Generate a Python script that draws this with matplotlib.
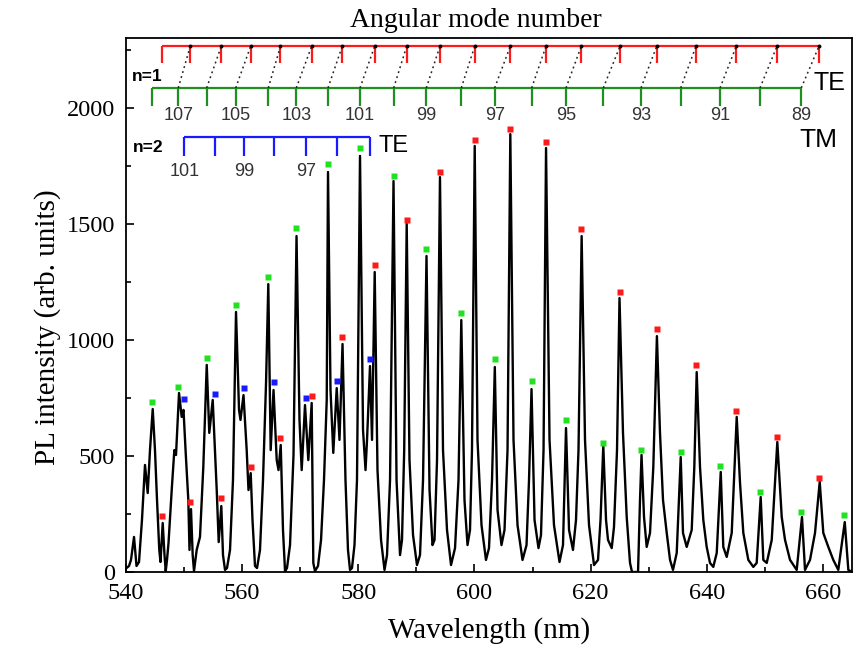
import matplotlib
matplotlib.use("Agg")
import matplotlib.pyplot as plt
from matplotlib.ticker import MultipleLocator

# ---------------- data ----------------
wavelength = [540.09, 540.52, 540.86, 541.38, 541.81, 542.24, 542.75, 543.27, 543.74, 544.13,
              544.60, 544.99, 545.34, 545.73, 545.94, 546.32, 546.63, 546.84, 547.06, 547.32,
              547.87, 548.32, 548.61, 549.13, 549.59, 549.90, 550.28, 550.73, 550.93, 551.19,
              551.48, 551.71, 552.17, 552.74, 553.31, 553.90, 554.34, 554.93, 555.32, 555.62,
              555.96, 556.41, 556.70, 557.05, 557.39, 557.91, 558.42, 558.94, 559.46, 559.71,
              560.23, 560.78, 561.09, 561.47, 561.78, 562.21, 562.56, 563.07, 563.59, 564.11,
              564.50, 564.91, 565.40, 565.95, 566.26, 566.64, 567.03, 567.38, 567.72, 568.24,
              568.84, 569.36, 569.87, 570.25, 570.82, 571.39, 571.97, 572.25, 572.54, 573.06,
              573.58, 574.09, 574.56, 574.78, 575.21, 575.69, 576.28, 576.76, 577.28, 577.79,
              578.22, 578.57, 578.91, 579.34, 579.77, 580.29, 580.81, 581.24, 581.50, 582.01,
              582.36, 582.82, 583.30, 583.91, 584.51, 584.94, 585.46, 586.06, 586.58, 587.18,
              587.52, 587.90, 588.33, 588.81, 589.42, 590.10, 590.62, 591.14, 591.74, 592.26,
              592.77, 593.12, 593.55, 594.06, 594.58, 595.27, 595.96, 596.65, 597.25, 597.73,
              598.28, 598.80, 599.23, 599.57, 600.04, 600.52, 601.21, 601.98, 602.50, 603.02,
              603.50, 603.97, 604.65, 605.17, 605.69, 606.17, 606.72, 607.41, 608.27, 608.96,
              609.39, 609.82, 610.34, 611.02, 611.45, 611.89, 612.32, 612.92, 613.69, 614.64,
              615.24, 615.76, 616.28, 616.96, 617.48, 617.91, 618.45, 619.03, 619.72, 620.58,
              621.27, 621.70, 622.18, 622.65, 622.99, 623.63, 624.02, 624.54, 624.97, 625.57,
              626.21, 626.78, 627.12, 628.16, 628.50, 628.76, 629.19, 629.65, 630.22, 630.79,
              631.41, 631.94, 632.46, 633.10, 633.67, 634.18, 634.82, 635.51, 635.90, 636.54,
              637.40, 637.85, 638.26, 638.83, 639.40, 639.98, 640.55, 641.12, 641.71, 642.40,
              642.84, 643.43, 644.29, 645.15, 645.72, 646.29, 647.15, 648.01, 648.59, 649.28,
              649.73, 650.32, 651.18, 652.14, 652.90, 653.47, 654.33, 655.48, 656.39, 656.91,
              657.77, 658.63, 659.44, 660.06, 660.92, 661.78, 662.64, 663.75, 664.37, 665.00]

intensity = [17, 26, 52, 151, 26, 43, 224, 461, 340, 525,
             702, 525, 310, 95, 43, 211, 73, 4, 52, 125,
             353, 525, 504, 771, 668, 698, 513, 310, 95, 271,
             73, 4, 95, 151, 452, 892, 599, 741, 525, 353,
             129, 284, 73, 9, 17, 95, 396, 1120, 698, 655,
             762, 525, 353, 426, 224, 26, 17, 95, 396, 814,
             1240, 525, 784, 482, 439, 547, 181, 4, 17, 116,
             504, 1447, 655, 439, 719, 482, 728, 39, 4, 26,
             138, 396, 741, 1723, 784, 513, 792, 569, 982, 396,
             95, 9, 17, 116, 396, 1792, 612, 439, 569, 887,
             569, 1292, 439, 138, 9, 73, 396, 1684, 396, 73,
             138, 525, 1499, 482, 159, 30, 73, 396, 1361, 353,
             116, 138, 482, 1701, 525, 181, 30, 103, 396, 1085,
             310, 116, 181, 525, 1835, 569, 202, 52, 103, 396,
             883, 267, 116, 181, 525, 1886, 569, 202, 52, 116,
             396, 788, 224, 103, 159, 525, 1826, 569, 202, 43,
             116, 620, 181, 95, 224, 525, 1447, 569, 202, 30,
             52, 224, 543, 224, 138, 103, 194, 525, 1180, 599,
             237, 39, 0, 0, 310, 504, 237, 108, 168, 452,
             1016, 599, 310, 168, 52, 9, 82, 495, 168, 108,
             181, 452, 861, 452, 224, 108, 39, 22, 82, 431,
             108, 65, 168, 668, 383, 168, 52, 22, 39, 323,
             52, 39, 138, 560, 237, 138, 52, 9, 237, 9,
             52, 168, 388, 168, 108, 52, 9, 215, 9, 0]

# TE n=1 (red markers)
te1_wl = [546.15, 551.07, 556.41, 561.47, 566.60, 571.97, 577.24, 582.82, 588.33, 594.06,
          600.04, 606.17, 612.32, 618.39, 625.06, 631.38, 638.14, 645.08, 652.09, 659.32]
te1_pl = [240, 301, 319, 453, 576, 757, 1013, 1322, 1517, 1724,
          1862, 1909, 1853, 1476, 1206, 1045, 892, 693, 583, 406]
# TM n=1 (green markers)
tm1_wl = [544.53, 549.00, 553.89, 558.89, 564.50, 569.32, 574.78, 580.29, 586.09, 591.71,
          597.73, 603.48, 609.85, 615.76, 622.18, 628.67, 635.51, 642.28, 649.16, 656.27, 663.57]
tm1_pl = [731, 797, 920, 1151, 1272, 1480, 1756, 1825, 1706, 1391,
          1116, 919, 823, 655, 557, 525, 518, 457, 343, 257, 245]
# TE n=2 (blue markers)
te2_wl = [550.04, 555.32, 560.32, 565.43, 570.96, 576.28, 582.01]
te2_pl = [745, 767, 794, 820, 748, 823, 917]

# angular mode number labels of the ladders
tm1_labels = ["", "107", "", "105", "", "103", "", "101", "", "99",
              "", "97", "", "95", "", "93", "", "91", "", "89"]
te2_labels = ["101", "", "99", "", "97", "", ""]

x_ticks = [540, 560, 580, 600, 620, 640, 660]
y_ticks = [0, 500, 1000, 1500, 2000]

# ---------------- styling ----------------
RED = "#ff1a1a"
GREEN_MK = "#22e022"
GREEN_LAD = "#1f8f1f"
BLUE = "#1a1aff"
SERIF = ["Liberation Serif", "DejaVu Serif"]
SANS = ["Liberation Sans", "DejaVu Sans"]

fig = plt.figure(figsize=(8.54, 6.66), dpi=100)
ax = fig.add_axes([126 / 854, 94 / 666, 726 / 854, 534 / 666])

ax.plot(wavelength, intensity, color="black", lw=1.7, solid_joinstyle="round", zorder=3)

ms = 4.3
ax.plot(te1_wl, te1_pl, ls="none", marker="s", ms=ms, mec="none", mfc=RED, zorder=4)
ax.plot(tm1_wl, tm1_pl, ls="none", marker="s", ms=ms, mec="none", mfc=GREEN_MK, zorder=4)
ax.plot(te2_wl, te2_pl, ls="none", marker="s", ms=ms, mec="none", mfc=BLUE, zorder=4)

# ---------------- mode ladders ----------------
RED_Y, RED_BOT = 2265, 2192
GRN_Y, GRN_BOT = 2085, 2007
BLU_Y, BLU_BOT = 1874, 1792
lad_lw = 1.6

ax.hlines(RED_Y, te1_wl[0], te1_wl[-1], color=RED, lw=lad_lw)
ax.vlines(te1_wl, RED_BOT, RED_Y, color=RED, lw=lad_lw)

tm_lad = tm1_wl[:20]
ax.hlines(GRN_Y, tm_lad[0], tm_lad[-1], color=GREEN_LAD, lw=lad_lw)
ax.vlines(tm_lad, GRN_BOT, GRN_Y, color=GREEN_LAD, lw=lad_lw)

ax.hlines(BLU_Y, te2_wl[0], te2_wl[-1], color=BLUE, lw=lad_lw)
ax.vlines(te2_wl, BLU_BOT, BLU_Y, color=BLUE, lw=lad_lw)

for i in range(1, 20):
    ax.plot([tm_lad[i], te1_wl[i]], [GRN_Y, RED_Y], color="#222222", lw=1.1,
            ls=(0, (1.2, 2.2)), zorder=2)
    ax.plot([te1_wl[i]], [RED_Y], marker="o", ms=1.8, color="black", zorder=3)

for w, lab in zip(tm_lad, tm1_labels):
    if lab:
        ax.text(w, 1968, lab, ha="center", va="center", fontsize=13,
                color="#333333", family=SANS)
for w, lab in zip(te2_wl, te2_labels):
    if lab:
        ax.text(w, 1723, lab, ha="center", va="center", fontsize=13,
                color="#333333", family=SANS)

ax.text(540.98, 2136, "n=1", ha="left", va="center", fontsize=12.5,
        fontweight="bold", family=SANS)
ax.text(541.15, 1828, "n=2", ha="left", va="center", fontsize=12.5,
        fontweight="bold", family=SANS)
ax.text(661.2, 2108, "TE", ha="center", va="center", fontsize=18, family=SANS)
ax.text(659.2, 1861, "TM", ha="center", va="center", fontsize=19, family=SANS)
ax.text(586.0, 1835, "TE", ha="center", va="center", fontsize=17, family=SANS)
ax.text(600.3, 2377, "Angular mode number", ha="center", va="center", fontsize=20,
        family=SERIF, clip_on=False)

# ---------------- axes ----------------
ax.set_xlim(540, 665)
ax.set_ylim(0, 2300)
ax.set_xticks(x_ticks)
ax.set_yticks(y_ticks)
ax.xaxis.set_minor_locator(MultipleLocator(10))
ax.yaxis.set_minor_locator(MultipleLocator(250))
ax.tick_params(which="both", direction="in", top=False, right=False, width=1.2)
ax.tick_params(which="major", length=6, pad=8, labelsize=17.5)
ax.tick_params(which="minor", length=3.5)
for lab in ax.get_xticklabels() + ax.get_yticklabels():
    lab.set_family(SERIF)
for sp in ax.spines.values():
    sp.set_linewidth(1.3)

ax.set_xlabel("Wavelength (nm)", fontsize=21, family=SERIF, labelpad=9)
ax.set_ylabel("PL intensity (arb. units)", fontsize=21, family=SERIF)
ax.yaxis.set_label_coords(-0.09, 0.459)

fig.savefig("out.png", dpi=100)
